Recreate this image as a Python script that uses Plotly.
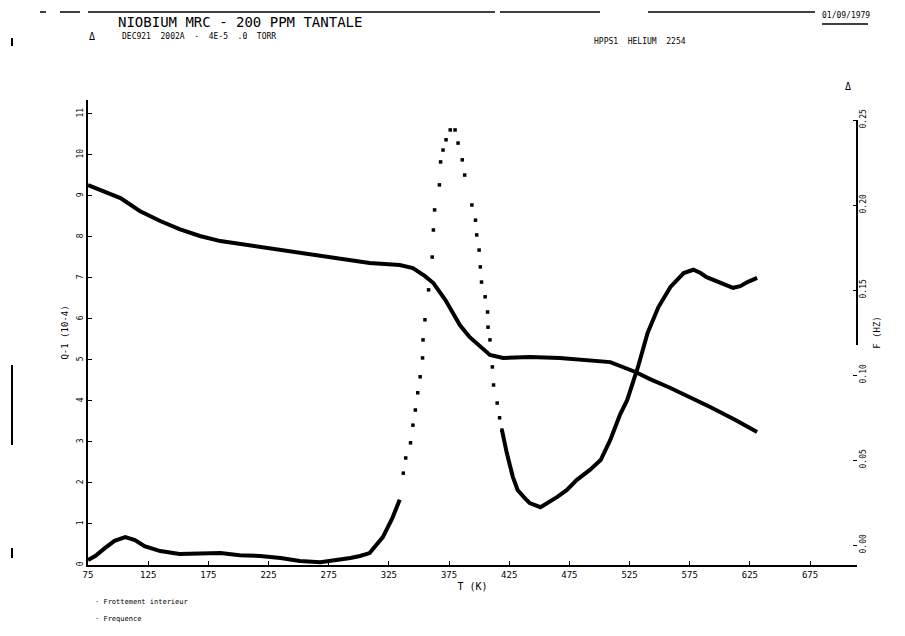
import plotly.graph_objects as go

# ---- data ----
# Curve A (frequency, right axis)
t_freq = [75, 85, 102, 118, 135, 151, 168, 185, 201, 218, 235, 251, 268, 284, 309, 334, 345, 355,
          362, 372, 384, 392, 401, 409, 420, 442, 467, 492, 509, 530, 542, 559, 575, 592, 613, 631]
freq = [0.2118, 0.2088, 0.2041, 0.1965, 0.1906, 0.1859, 0.1818, 0.1788, 0.1771, 0.1753, 0.1735,
        0.1718, 0.1700, 0.1688, 0.1659, 0.1647, 0.1629, 0.1582, 0.1541, 0.1441, 0.1294, 0.1224,
        0.1165, 0.1118, 0.1100, 0.1106, 0.1100, 0.1088, 0.1076, 0.1018, 0.0976, 0.0924, 0.0871,
        0.0812, 0.0735, 0.0665]

# Curve B (internal friction, left axis) - low temperature part
t_q_low = [75, 81, 89, 97, 106, 114, 122, 135, 151, 168, 185, 201, 218, 235, 251, 268, 284, 293,
           301, 309, 320, 328, 334]
q_low = [0.12, 0.22, 0.41, 0.59, 0.68, 0.61, 0.46, 0.34, 0.27, 0.27, 0.29, 0.24, 0.22, 0.17, 0.10,
         0.07, 0.12, 0.17, 0.22, 0.29, 0.68, 1.15, 1.59]
# peak part (sparse sampled points)
t_q_peak = [337, 339, 343, 345, 347, 349, 351, 353, 353.4, 355, 358, 361, 362, 363, 367, 368, 370,
            372.5, 376, 380, 382.5, 386, 388, 394, 397, 398, 400, 401, 402, 405, 407, 407.4, 409,
            411, 412, 415, 417, 419]
q_peak = [2.24, 2.61, 2.98, 3.41, 3.78, 4.20, 4.59, 5.05, 5.49, 5.98, 6.71, 7.51, 8.17, 8.66, 9.27,
          9.83, 10.12, 10.37, 10.61, 10.61, 10.29, 9.88, 9.51, 8.78, 8.41, 8.05, 7.68, 7.27, 6.90,
          6.54, 6.17, 5.80, 5.49, 4.83, 4.39, 3.95, 3.59, 3.29]
# high temperature part
t_q_high = [419, 423, 428, 432, 437, 442, 451, 457, 465, 473, 481, 492, 501, 509, 517, 523, 532,
            540, 549, 559, 570, 578, 584, 589, 600, 611, 617, 623, 631]
q_high = [3.29, 2.73, 2.15, 1.83, 1.66, 1.51, 1.41, 1.51, 1.66, 1.83, 2.07, 2.32, 2.56, 3.05, 3.66,
          4.02, 4.83, 5.66, 6.29, 6.78, 7.12, 7.20, 7.12, 7.02, 6.88, 6.76, 6.80, 6.90, 7.00]

x_ticks = [75, 125, 175, 225, 275, 325, 375, 425, 475, 525, 575, 625, 675]
left_ticks = list(range(0, 12))
right_ticks = [0.00, 0.05, 0.10, 0.15, 0.20, 0.25]
right_tick_text = ["0.00", "0.05", "0.10", "0.15", "0.20", "0.25"]

FONT = "DejaVu Sans Mono"
INK = "#000000"

fig = go.Figure()
fig.add_trace(go.Scatter(x=t_q_low, y=q_low, mode="lines", line=dict(color=INK, width=4),
                         showlegend=False, yaxis="y"))
fig.add_trace(go.Scatter(x=t_q_peak, y=q_peak, mode="markers",
                         marker=dict(color=INK, size=3.5, symbol="square"),
                         showlegend=False, yaxis="y"))
fig.add_trace(go.Scatter(x=t_q_high, y=q_high, mode="lines", line=dict(color=INK, width=4),
                         showlegend=False, yaxis="y"))
fig.add_trace(go.Scatter(x=t_freq, y=freq, mode="lines", line=dict(color=INK, width=4),
                         showlegend=False, yaxis="y2"))

# the page body has an 8 px margin: figure starts at page (8, 8)
fig.update_layout(
    width=897, height=628,
    margin=dict(l=80, r=48, t=92, b=71),
    paper_bgcolor="white", plot_bgcolor="white",
    font=dict(family=FONT, color=INK, size=9),
    showlegend=False,
    xaxis=dict(range=[75, 714], tickvals=x_ticks, ticks="inside", ticklen=4, tickcolor=INK,
               showline=True, linecolor=INK, linewidth=2, showgrid=False, zeroline=False,
               tickfont=dict(size=9, family=FONT, color=INK),
               title=dict(text="T (K)", font=dict(size=10, family=FONT, color=INK), standoff=4)),
    yaxis=dict(range=[0, 11.34], tickvals=left_ticks, ticks="inside", ticklen=4, tickcolor=INK,
               showline=True, linecolor=INK, linewidth=2, showgrid=False, zeroline=False,
               tickangle=-90, tickfont=dict(size=8, family=FONT, color=INK),
               title=dict(text="Q-1 (10-4)", font=dict(size=9, family=FONT, color=INK), standoff=6)),
    yaxis2=dict(range=[-0.01176, 0.2618], overlaying="y", side="right", tickvals=right_ticks,
                ticktext=right_tick_text, ticks="inside", ticklen=4, tickcolor=INK,
                showline=False, showgrid=False, zeroline=False, tickangle=-90,
                tickfont=dict(size=8, family=FONT, color=INK),
                title=dict(text="F (HZ)", font=dict(size=9, family=FONT, color=INK), standoff=6)),
)

# decorative frame marks of the scanned sheet (positions given in page pixels)
def px_line(x0, y0, x1, y1, w=1.5):
    return dict(type="line", xref="paper", yref="paper",
                x0=(x0 - 88) / 769, x1=(x1 - 88) / 769,
                y0=(565 - y0) / 465, y1=(565 - y1) / 465, line=dict(color=INK, width=w))

shapes = [
    px_line(857, 120, 857, 345, 2),
    px_line(88, 12, 495, 12), px_line(500, 12, 600, 12), px_line(648, 12, 815, 12),
    px_line(40, 12, 46, 12), px_line(60, 12, 80, 12),
    px_line(822, 24, 868, 24),
    px_line(12, 365, 12, 445, 2), px_line(12, 38, 12, 46, 2), px_line(12, 548, 12, 558, 2),
]
fig.update_layout(shapes=shapes)

def ann(text, x, y, size, anchor="left"):
    return dict(text=text, xref="paper", yref="paper", x=(x - 88) / 769, y=(565 - y) / 465,
                xanchor=anchor, yanchor="middle", showarrow=False,
                font=dict(family=FONT, size=size, color=INK))

fig.update_layout(annotations=[
    ann("NIOBIUM MRC - 200 PPM TANTALE", 116, 22, 14),
    ann("DEC921  2002A  -  4E-5  .0  TORR", 120, 37, 8),
    ann("HPPS1  HELIUM  2254", 592, 42, 8),
    ann("01/09/1979", 820, 16, 8),
    ann("Δ", 87, 37, 10),
    ann("Δ", 843, 86, 10),
    ann("· Frottement interieur", 93, 602, 7),
    ann("· Frequence", 93, 619, 7),
])

fig.write_html("out.html")
